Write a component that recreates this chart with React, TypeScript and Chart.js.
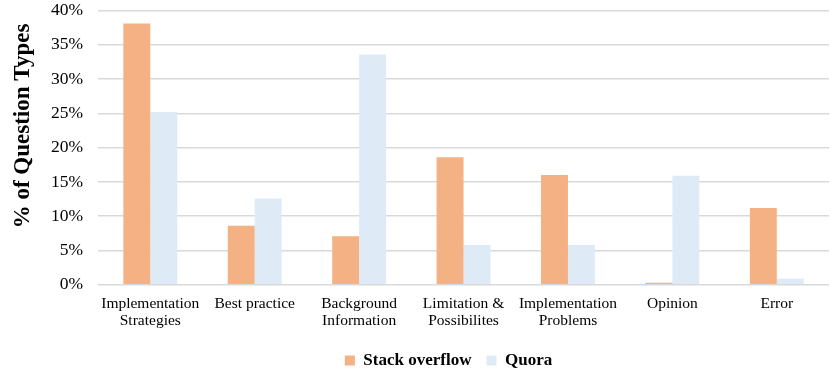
import React, { useEffect, useRef } from "react";
import { Chart, registerables } from "chart.js";

Chart.register(...registerables);

const categories: string[][] = [
  ["Implementation", "Strategies"],
  ["Best practice"],
  ["Background", "Information"],
  ["Limitation &", "Possibilites"],
  ["Implementation", "Problems"],
  ["Opinion"],
  ["Error"],
];
const stackOverflow = [38.1, 8.6, 7.1, 18.6, 16.0, 0.3, 11.2];
const quora = [25.2, 12.6, 33.6, 5.8, 5.8, 15.9, 0.9];
const yTicks = [0, 5, 10, 15, 20, 25, 30, 35, 40];
const yTitle = "% of Question Types";

const FONT = "'Liberation Serif', 'Times New Roman', serif";
const SHIFT = 15;

const yTitlePlugin = {
  id: "yTitlePlugin",
  beforeDraw(chart: any) {
    if (chart.legend) {
      chart.legend.left += 16;
      chart.legend.right += 16;
    }
  },
  afterDraw(chart: any) {
    const ctx = chart.ctx;
    ctx.save();
    ctx.translate(23, 126 + SHIFT);
    ctx.rotate(-Math.PI / 2);
    ctx.textAlign = "center";
    ctx.textBaseline = "middle";
    ctx.fillStyle = "#000";
    ctx.font = `bold 23px ${FONT}`;
    ctx.fillText(yTitle, 0, 0);
    ctx.restore();
  },
};

export default function App() {
  const ref = useRef<HTMLCanvasElement | null>(null);
  useEffect(() => {
    if (!ref.current) return;
    const chart = new Chart(ref.current, {
      type: "bar",
      data: {
        labels: categories,
        datasets: [
          {
            label: "Stack overflow",
            data: stackOverflow,
            backgroundColor: "#F4B183",
            categoryPercentage: 0.516,
            barPercentage: 1,
          },
          {
            label: "Quora",
            data: quora,
            backgroundColor: "#DEEBF7",
            categoryPercentage: 0.516,
            barPercentage: 1,
          },
        ],
      },
      plugins: [yTitlePlugin],
      options: {
        animation: false,
        responsive: false,
        maintainAspectRatio: false,
        layout: { padding: { top: 0, right: 1, left: 36, bottom: 0 } },
        plugins: {
          legend: {
            position: "bottom",
            labels: {
              boxWidth: 10,
              boxHeight: 10,
              color: "#000",
              padding: 15,
              font: { family: FONT, size: 17, weight: "bold" },
            },
          },
          tooltip: { enabled: false },
        },
        scales: {
          x: {
            grid: { display: false },
            border: { display: false },
            afterFit: (scale: any) => {
              scale.height += 5;
            },
            ticks: {
              color: "#000",
              font: { family: FONT, size: 15.5, lineHeight: 1.07 },
              maxRotation: 0,
              autoSkip: false,
              padding: 3,
            },
          },
          y: {
            min: 0,
            max: 40,
            afterBuildTicks: (axis: any) => {
              axis.ticks = yTicks.map((v) => ({ value: v }));
            },
            grid: { color: "#D9D9D9", lineWidth: 1.5, drawTicks: false },
            border: { display: false },
            ticks: {
              color: "#000",
              font: { family: FONT, size: 17.5 },
              padding: 15,
              callback: (v: any) => v + "%",
            },
          },
        },
      },
    });
    return () => chart.destroy();
  }, []);
  return (
    <div style={{ position: "fixed", left: 0, top: -SHIFT, width: 830, height: 379 + SHIFT, background: "#fff" }}>
      <canvas ref={ref} width={830} height={379 + SHIFT} />
    </div>
  );
}
